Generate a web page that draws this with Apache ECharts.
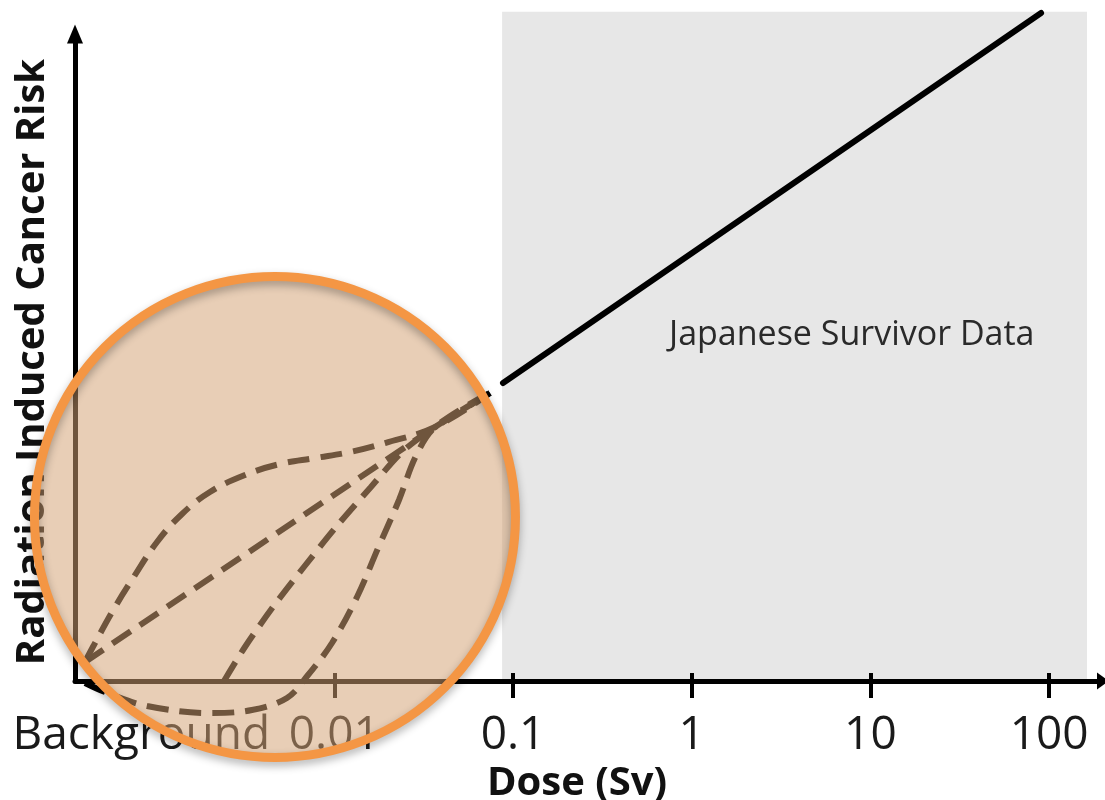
<!DOCTYPE html>
<html>
<head>
<meta charset="utf-8">
<script src="https://cdn.jsdelivr.net/npm/echarts@6/dist/echarts.min.js"></script>
<style>
html,body{margin:0;padding:0;background:#fff;}
#chart{width:1105px;height:800px;}
</style>
</head>
<body>
<div id="chart"></div>
<script>
// x values are log10(dose in Sv); y values are relative risk units
const doseTickValues = [-2, -1, 0, 1, 2];
const doseTickLabels = ['0.01', '0.1', '1', '10', '100'];
const backgroundLabel = 'Background';
const backgroundPos = -3.08;

const survivorRegion = [[-1.061, 2.212, 0, 104.9]];
const survivorLine = [[-1.056, 46.7], [1.955, 104.7]];
const survivorText = 'Japanese Survivor Data';

const supraLinear = [[-3.395, 2.98], [-3.345, 5.64], [-3.227, 11.60], [-3.126, 16.14], [-2.992, 21.79], [-2.852, 26.18], [-2.696, 29.62], [-2.500, 32.29], [-2.304, 34.01], [-2.108, 34.95], [-1.912, 35.89], [-1.716, 37.30], [-1.436, 39.81], [-1.129, 45.14]];
const linearModel = [[-3.395, 2.98], [-1.436, 39.81], [-1.129, 45.14]];
const quadratic = [[-2.617, 0], [-2.500, 5.33], [-2.343, 11.60], [-2.170, 17.87], [-1.990, 24.14], [-1.795, 30.41], [-1.621, 35.89], [-1.436, 39.81], [-1.129, 45.14]];
const hormesis = [[-3.395, -0.31], [-3.283, -1.72], [-3.048, -3.92], [-2.696, -5.02], [-2.461, -4.55], [-2.265, -2.66], [-2.147, 0.94], [-2.013, 5.96], [-1.873, 13.17], [-1.755, 20.85], [-1.638, 28.37], [-1.543, 35.27], [-1.436, 39.81], [-1.129, 45.14]];

const lowDoseCircle = [[-2.332, 25.7]];

const xTitle = 'Dose (Sv)';
const yTitle = 'Radiation Induced Cancer Risk';

const X_MIN = -3.451, X_MAX = 2.268;
const labelValues = [backgroundPos].concat(doseTickValues);
function fmt(v) {
  if (Math.abs(v - backgroundPos) < 1e-6) return backgroundLabel;
  const i = doseTickValues.findIndex(t => Math.abs(t - v) < 1e-6);
  return i >= 0 ? doseTickLabels[i] : '';
}

const chart = echarts.init(document.getElementById('chart'), null, {renderer: 'canvas'});

const dashStyle = {color: '#000', width: 6, type: [22, 11], cap: 'butt'};
function dashed(data, smooth) {
  return {
    type: 'line', data: data, showSymbol: false, symbol: 'none', smooth: smooth,
    lineStyle: dashStyle, clip: false, z: 2, silent: true, animation: false
  };
}

chart.setOption({
  animation: false,
  backgroundColor: '#fff',
  grid: {left: 75, right: 8, top: 43, bottom: 119, containLabel: false, outerBoundsMode: 'none'},
  xAxis: [{
    type: 'value', min: X_MIN, max: X_MAX, position: 'bottom', z: 3,
    axisLine: {show: true, onZero: false, symbol: ['none', 'triangle'], symbolSize: [17, 12], symbolOffset: [0, 6],
      lineStyle: {color: '#000', width: 5}},
    axisTick: {show: true, customValues: doseTickValues, length: 17, lineStyle: {color: '#000', width: 4}},
    axisLabel: {show: true, customValues: labelValues, formatter: fmt, margin: 32,
      fontFamily: 'Open Sans', fontSize: 46, color: '#1a1a1a'},
    splitLine: {show: false},
    name: xTitle, nameLocation: 'middle', nameGap: 72,
    nameTextStyle: {fontFamily: 'Open Sans', fontWeight: 'bold', fontSize: 40, color: '#111', padding: [0, 18, 0, 0]}
  }, {
    type: 'value', min: X_MIN, max: X_MAX, position: 'top', offset: -638, z: 3,
    axisLine: {show: false},
    axisTick: {show: true, customValues: doseTickValues, length: 8, inside: false, lineStyle: {color: '#000', width: 4}},
    axisLabel: {show: false},
    splitLine: {show: false}
  }],
  yAxis: {
    type: 'value', min: 0, max: 100, z: 3,
    axisLine: {show: true, onZero: false, symbol: ['none', 'triangle'], symbolSize: [16, 19], symbolOffset: [0, 9],
      lineStyle: {color: '#000', width: 5}},
    axisTick: {show: false}, axisLabel: {show: false}, splitLine: {show: false},
    name: yTitle, nameLocation: 'middle', nameGap: 22, nameRotate: 90,
    nameTextStyle: {fontFamily: 'Open Sans', fontWeight: 'bold', fontSize: 40, lineHeight: 40, color: '#111'}
  },
  graphic: [{
    type: 'text', left: 669, top: 318, z: 5,
    style: {text: survivorText, fontFamily: 'Open Sans', fontSize: 34, fill: '#2a2a2a'}
  }],
  series: [
    {
      type: 'custom', clip: false, z: 1, silent: true,
      renderItem: function (params, api) {
        const p0 = api.coord([api.value(0), api.value(3)]);
        const p1 = api.coord([api.value(1), api.value(2)]);
        return {type: 'rect', shape: {x: p0[0], y: p0[1], width: p1[0] - p0[0], height: p1[1] - p0[1]},
          style: {fill: '#e7e7e7'}};
      },
      data: survivorRegion
    },
    {
      type: 'line', data: survivorLine, showSymbol: false, symbol: 'none', clip: false, z: 2, silent: true,
      lineStyle: {color: '#000', width: 6, cap: 'round'}
    },
    dashed(supraLinear, 0.4),
    dashed(linearModel, false),
    dashed(quadratic, 0.3),
    dashed(hormesis, 0.35),
    {
      type: 'scatter', data: lowDoseCircle, symbol: 'circle', symbolSize: 481, clip: false, z: 10, silent: true,
      itemStyle: {color: 'rgba(212,161,117,0.66)', borderWidth: 0},
      emphasis: {disabled: true}
    },
    {
      type: 'scatter', data: lowDoseCircle, symbol: 'circle', symbolSize: 481, clip: false, z: 11, silent: true,
      itemStyle: {color: 'rgba(0,0,0,0)', borderColor: '#f49644', borderWidth: 9, opacity: 1,
        shadowBlur: 8, shadowColor: 'rgba(0,0,0,0.3)', shadowOffsetY: 4},
      emphasis: {disabled: true}
    }
  ]
});
</script>
</body>
</html>
